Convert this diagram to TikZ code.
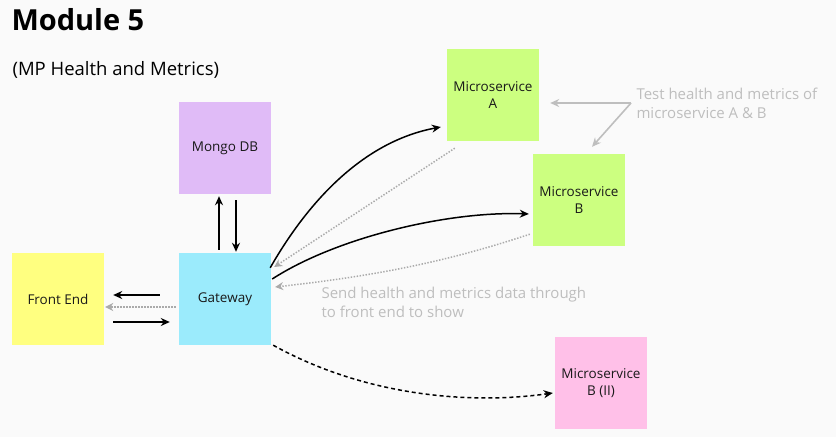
\documentclass[tikz,border=0pt]{standalone}
\usepackage{fontspec}
\setmainfont{Open Sans}
\usepackage{tikz}
\usetikzlibrary{arrows.meta,calc,positioning}

\definecolor{bgcol}{RGB}{250,250,250}
\definecolor{mongocol}{RGB}{224,187,247}
\definecolor{gwcol}{RGB}{155,235,252}
\definecolor{fecol}{RGB}{255,255,128}
\definecolor{mscol}{RGB}{204,255,128}
\definecolor{pinkcol}{RGB}{255,192,232}
\definecolor{notecol}{RGB}{190,190,190}
\definecolor{backcol}{RGB}{170,170,170}

\begin{document}
\begin{tikzpicture}[x=1pt,y=-1pt]
  \tikzset{
  box/.style={inner sep=0pt,minimum size=92pt,align=center,text=black!90,font=\fontsize{13.5}{17}\selectfont},
  con/.style={-{Stealth[length=9pt,width=8pt]},line width=1.5pt},
  back/.style={-{Stealth[length=8pt,width=8pt]},backcol,line width=1.5pt,dash pattern=on 1.4pt off 1.6pt},
  hint/.style={-{Stealth[length=9pt,width=8pt]},notecol,line width=1.6pt},
  note/.style={notecol,anchor=west,align=left,font=\fontsize{15}{19}\selectfont},
  }
  \fill[bgcol] (0,0) rectangle (836,437);
  % the titles
  \node[anchor=base west,font=\fontsize{29}{36}\bfseries] (ttl) at (8,30) {Module 5};
  \node[anchor=west,font=\fontsize{18.5}{20}\selectfont] (sub) at (9,70) {(MP Health and Metrics)};

  % the boxes
  \node[box,fill=mongocol] (mongo) at (225,148) {Mongo DB};
  \node[box,fill=gwcol] (gw) at (225,299) {Gateway};
  \node[box,fill=fecol] (fe) at (58,299) {Front End};
  \node[box,fill=mscol] (msa) at (493,95) {Microservice\\A};
  \node[box,fill=mscol] (msb) at (579,200) {Microservice\\B};
  \node[box,fill=pinkcol] (msb2) at (601,383) {Microservice\\B (II)};

  % the notes
  \node[note] (testnote) at (633,103) {Test health and metrics of\\microservice A \& B};
  \node[note] (sendnote) at (318,302) {Send health and metrics data through\\to front end to show};
  \coordinate (vt) at (631,103);

  % gateway and database
  \draw[con] ([shift={(-6,-3)}]gw.north) -- ([shift={(-6,2)}]mongo.south);
  \draw[con] ([shift={(11,6)}]mongo.south) -- ([shift={(11,-1)}]gw.north);

  % gateway and front end
  \draw[con] ([shift={(-19,-4)}]gw.west) -- ([shift={(9,-4)}]fe.east);
  \draw[back] ([shift={(-3,8)}]gw.west) -- ([shift={(1,8)}]fe.east);
  \draw[con] ([shift={(9,23)}]fe.east) -- ([shift={(-9,23)}]gw.west);

  % gateway and the services
  \draw[con] ([shift={(-1,15)}]gw.north east) .. controls +(40,-70) and +(-75,14) .. ([shift={(-6,32)}]msa.west);
  \draw[back] ([shift={(8,7)}]msa.south west) -- ([shift={(3,-32)}]gw.east);
  \draw[con] ([shift={(1,-20)}]gw.east) .. controls +(65,-42) and +(-80,-3) .. ([shift={(-4,14)}]msb.west);
  \draw[back] ([shift={(-3,-12)}]msb.south west) .. controls +(-90,30) and +(90,-10) .. ([shift={(4,-12)}]gw.east);
  \draw[con,dash pattern=on 4pt off 3pt] ([shift={(2,0)}]gw.south east) .. controls +(90,50) and +(-85,12) .. ([shift={(-2,10)}]msb2.west);

  % the test hints
  \draw[hint] (vt) -- ([shift={(11,8)}]msa.east);
  \draw[hint] (vt) -- ([shift={(13,-7)}]msb.north);
\end{tikzpicture}
\end{document}
